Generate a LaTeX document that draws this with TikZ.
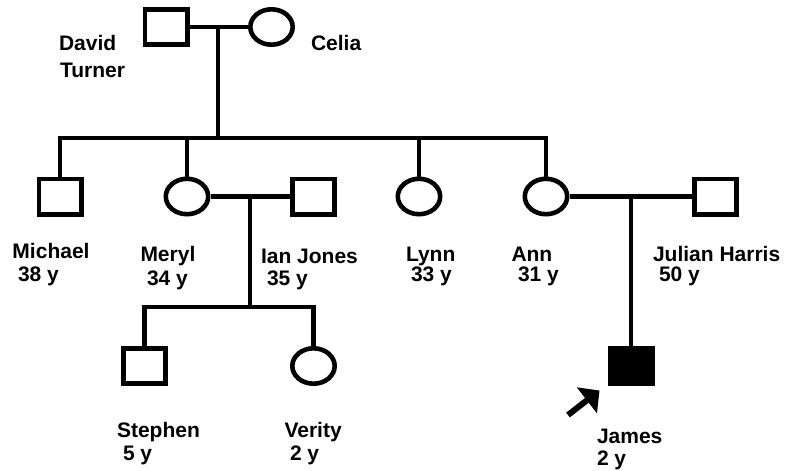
\documentclass[tikz,border=0pt]{standalone}
\usepackage{fontspec}
\setmainfont{Liberation Sans}
\usetikzlibrary{arrows.meta,shapes.geometric}
\tikzset{
  person/.style={draw=black, line width=4.6pt, inner sep=0pt, minimum width=42.4pt, minimum height=35.4pt, fill=white},
  male/.style={person, rectangle},
  female/.style={person, ellipse},
  affected/.style={male, fill=black},
  link/.style={line width=4.3pt},
  lbl/.style={anchor=base west, inner sep=0pt, outer sep=0pt, font=\fontsize{21}{25}\selectfont\bfseries},
  proband/.style={line width=6pt, -{Triangle[width=32pt,length=16pt]}}
}
\begin{document}
\begin{tikzpicture}[x=1pt, y=-1pt]
\useasboundingbox (0,0) rectangle (788,471);
% persons
\node[male]   (david)   at (166,27) {};
\node[female] (celia)   at (271.5,27) {};
\node[male]   (michael) at (60,196.5) {};
\node[female] (meryl)   at (187,196.5) {};
\node[male]   (ian)     at (313.5,196.5) {};
\node[female] (lynn)    at (419,196.5) {};
\node[female] (ann)     at (546,196.5) {};
\node[male]   (julian)  at (715.5,196.5) {};
\node[male]   (stephen) at (144.5,366) {};
\node[female] (verity)  at (313.5,366) {};
\node[affected] (james) at (631,365.5) {};
% junctions
\coordinate (m1) at (218,27);
\coordinate (sib1) at (218,138);
\coordinate (m2) at (250,196.5);
\coordinate (sib2) at (250,307);
\coordinate (m3) at (631,196.5);
% connectors
\draw[link] (david) -- (celia);
\draw[link] (m1) -- (sib1);
\draw[link] (michael) |- (sib1) -| (ann);
\draw[link] (meryl) -- (meryl |- sib1);
\draw[link] (lynn) -- (lynn |- sib1);
\draw[link] (meryl) -- (ian);
\draw[link] (m2) -- (sib2);
\draw[link] (stephen) |- (sib2) -| (verity);
\draw[link] (ann) -- (julian);
\draw[link] (m3) -- (james);
% proband arrow
\coordinate (arrtail) at (568,415);
\coordinate (arrtip) at (599.5,390.5);
\draw[proband] (arrtail) -- (arrtip);
% labels
\node[lbl] (davidname)  at (59,50.7) {David};
\node[lbl] (davidname2) at (60,77.3) {Turner};
\node[lbl] (celianame)  at (311,50.7) {Celia};
\node[lbl] (michaelname) at (12.5,258.3) {Michael};
\node[lbl] (michaelage)  at (18,281.7) {38 y};
\node[lbl] (merylname)   at (140.5,261.7) {Meryl};
\node[lbl] (merylage)    at (147,285) {34 y};
\node[lbl] (ianname)     at (261,263.5) {Ian Jones};
\node[lbl] (ianage)      at (267,285) {35 y};
\node[lbl] (lynnname)    at (406,261.7) {Lynn};
\node[lbl] (lynnage)     at (411,281.7) {33 y};
\node[lbl] (annname)     at (511.5,261.7) {Ann};
\node[lbl] (annage)      at (518,281.7) {31 y};
\node[lbl] (julianname)  at (653,261.7) {Julian Harris};
\node[lbl] (julianage)   at (659,281.7) {50 y};
\node[lbl] (stephenname) at (117,437) {Stephen};
\node[lbl] (stephenage)  at (123,460) {5 y};
\node[lbl] (verityname)  at (284.5,437) {Verity};
\node[lbl] (verityage)   at (290,460) {2 y};
\node[lbl] (jamesname)   at (597,443) {James};
\node[lbl] (jamesage)    at (597,465) {2 y};
\end{tikzpicture}
\end{document}
